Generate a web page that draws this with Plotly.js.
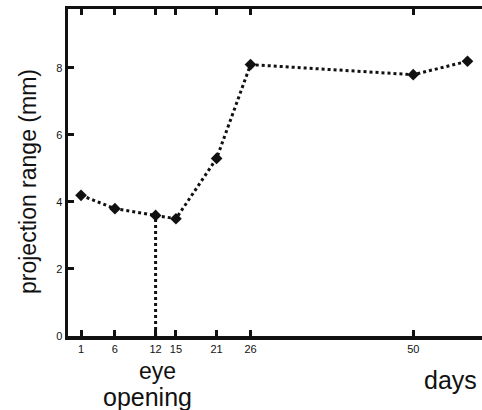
<!DOCTYPE html>
<html>
<head>
<meta charset="utf-8">
<script src="https://cdn.plot.ly/plotly-3.0.1.min.js"></script>
<style>html,body{margin:0;padding:0;background:#fff;}#chart{width:482px;height:410px;}</style>
</head>
<body>
<div id="chart"></div>
<script>
const days = [1, 6, 12, 15, 21, 26, 50, 58];
const projectionRange = [4.2, 3.8, 3.6, 3.5, 5.3, 8.1, 7.8, 8.2];
const tickDays = [1, 6, 12, 15, 21, 26, 50];
const tickLabels = ['1', '6', '12', '15', '21', '26', '50'];
const eyeOpeningDay = 12;
const eyeOpeningValue = 3.6;

const font = 'Liberation Sans, Arial, Helvetica, sans-serif';

const traces = [
  {
    x: [eyeOpeningDay, eyeOpeningDay],
    y: [0, eyeOpeningValue],
    mode: 'lines',
    line: {color: '#111', width: 3, dash: 'dot'},
    hoverinfo: 'skip',
    showlegend: false
  },
  {
    x: days,
    y: projectionRange,
    mode: 'lines+markers',
    line: {color: '#111', width: 3, dash: 'dot'},
    marker: {symbol: 'diamond', size: 9, color: '#111'},
    showlegend: false
  }
];

const layout = {
  width: 482,
  height: 410,
  margin: {l: 68, r: 0, t: 9, b: 74},
  paper_bgcolor: '#fff',
  plot_bgcolor: '#fff',
  font: {family: font, color: '#111'},
  xaxis: {
    range: [-0.92, 60.14],
    tickvals: tickDays,
    ticktext: tickLabels,
    ticks: 'inside',
    ticklen: 6,
    tickwidth: 3,
    tickcolor: '#111',
    showline: true,
    linewidth: 3.5,
    linecolor: '#111',
    mirror: 'ticks',
    showgrid: false,
    zeroline: false,
    tickfont: {size: 11, family: font},
    fixedrange: true
  },
  yaxis: {
    range: [0, 9.76],
    tickvals: [0, 2, 4, 6, 8],
    ticks: 'inside',
    ticklen: 6,
    tickwidth: 3,
    tickcolor: '#111',
    showline: true,
    linewidth: 3.5,
    linecolor: '#111',
    showgrid: false,
    zeroline: false,
    tickfont: {size: 11, family: font},
    fixedrange: true
  },
  annotations: [
    {text: 'projection range (mm)', textangle: -90, xref: 'paper', yref: 'paper', x: (28 - 68) / 414, y: (336 - 182) / 327, xanchor: 'center', yanchor: 'middle', showarrow: false, font: {size: 23, family: font}},
    {text: 'eye', xref: 'paper', yref: 'paper', x: (157 - 68) / 414, y: -35 / 327, xanchor: 'center', yanchor: 'middle', showarrow: false, font: {size: 23, family: font}},
    {text: 'opening', xref: 'paper', yref: 'paper', x: (147 - 68) / 414, y: -61 / 327, xanchor: 'center', yanchor: 'middle', showarrow: false, font: {size: 25, family: font}},
    {text: 'days', xref: 'paper', yref: 'paper', x: (450 - 68) / 414, y: -44 / 327, xanchor: 'center', yanchor: 'middle', showarrow: false, font: {size: 25, family: font}}
  ]
};

Plotly.newPlot('chart', traces, layout, {displayModeBar: false, staticPlot: true});
</script>
</body>
</html>
